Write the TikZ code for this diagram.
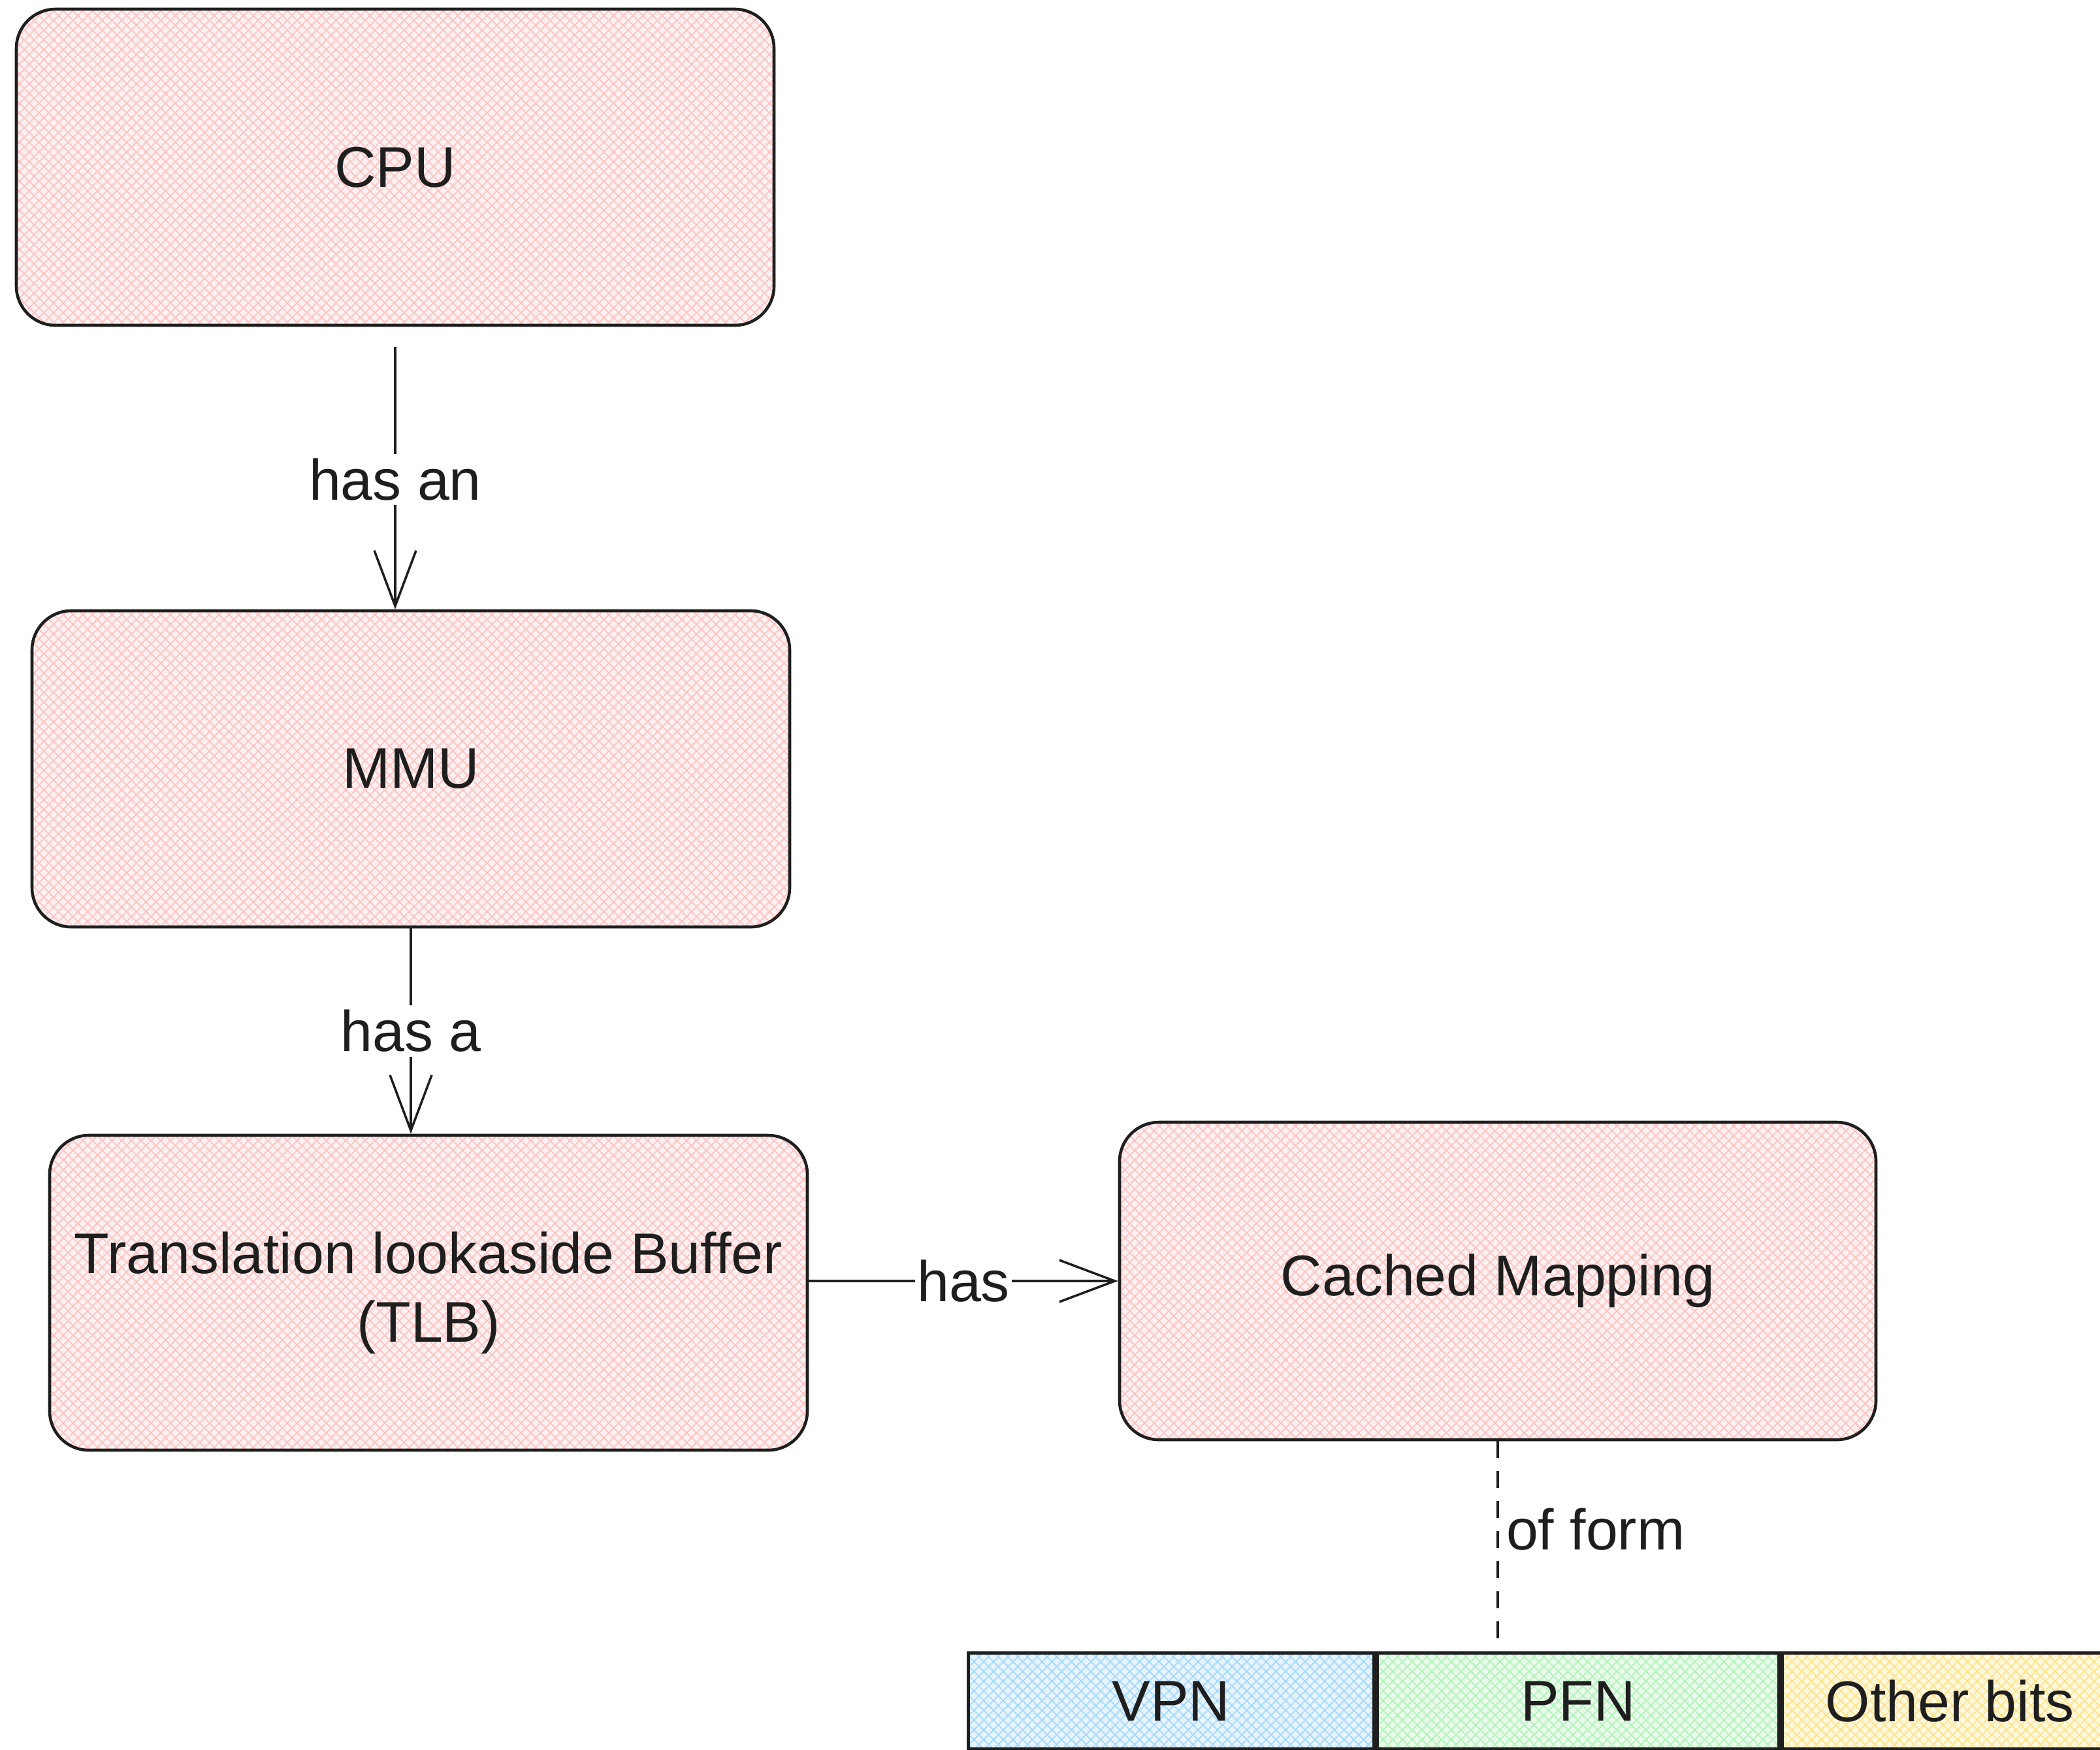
\documentclass[tikz,border=0pt]{standalone}
\usepackage{fontspec}
\setmainfont{Liberation Sans}
\usetikzlibrary{arrows.meta,patterns.meta,calc}
\definecolor{ink}{HTML}{1E1E1E}
\definecolor{pinkline}{HTML}{FFC2C2}
\definecolor{pinkbg}{HTML}{FEF0F0}
\definecolor{blueline}{HTML}{A5D8FF}
\definecolor{bluebg}{HTML}{E6F4FF}
\definecolor{greenline}{HTML}{B2F2BB}
\definecolor{greenbg}{HTML}{E8FAEA}
\definecolor{yellowline}{HTML}{FFE38A}
\definecolor{yellowbg}{HTML}{FFF8DD}
\tikzset{
  hatch/.style 2 args={
    preaction={fill=#1},
    preaction={pattern={Lines[angle=45,distance=3pt,line width=0.5pt]},pattern color=#2},
    preaction={pattern={Lines[angle=-45,distance=3pt,line width=0.5pt]},pattern color=#2}},
  txt/.style={font=\fontsize{25}{30}\selectfont, text=ink},
  box/.style={draw=ink, line width=1.3pt, rounded corners=0.6cm, hatch={pinkbg}{pinkline},
    minimum width=11.6cm, minimum height=4.84cm, txt, align=center},
  cell/.style={draw=ink, line width=1.4pt, minimum height=1.47cm, anchor=north west,
    inner sep=0pt, txt},
  conn/.style={draw=ink, line width=1pt, -{Straight Barb[length=0.85cm,width=0.64cm,line width=1pt]}},
  lbl/.style={fill=white, inner sep=2pt, txt},
  dashconn/.style={draw=ink, line width=1.4pt, dash pattern=on 0.26cm off 0.2cm}
}
\begin{document}
\begin{tikzpicture}
\useasboundingbox (0,0) rectangle (32.15,-26.78);
\fill[white] (0,0) rectangle (32.15,-26.78);

\node[box] (cpu) at (6.05,-2.56) {CPU};
\node[box] (mmu) at (6.29,-11.77) {MMU};
\node[box, minimum height=4.82cm] (tlb) at (6.56,-19.79) {Translation lookaside Buffer\\(TLB)};
\node[box, minimum width=11.58cm, minimum height=4.86cm] (cm) at (22.93,-19.61) {Cached Mapping};

\node[cell, minimum width=6.21cm, hatch={bluebg}{blueline}] (vpn) at (14.80,-25.28) {VPN};
\node[cell, minimum width=6.15cm, hatch={greenbg}{greenline}] (pfn) at (vpn.north east) {PFN};
\node[cell, minimum width=5.14cm, hatch={yellowbg}{yellowline}] (oth) at (pfn.north east) {Other bits};

\draw[conn, shorten <=0.31cm] (cpu.south) -- (cpu.south |- mmu.north)
  node[lbl, pos=0.54] {has an};
\draw[conn] (mmu.south) -- (mmu.south |- tlb.north)
  node[lbl, midway] {has a};
\draw[conn] (cm.west -| tlb.east) -- (cm.west)
  node[lbl, midway, inner sep=1pt] {has};
\draw[dashconn, shorten >=0.1cm] (cm.south) -- (cm.south |- vpn.north)
  node[txt, pos=0.42, right, inner sep=3pt] {of form};
\end{tikzpicture}
\end{document}
